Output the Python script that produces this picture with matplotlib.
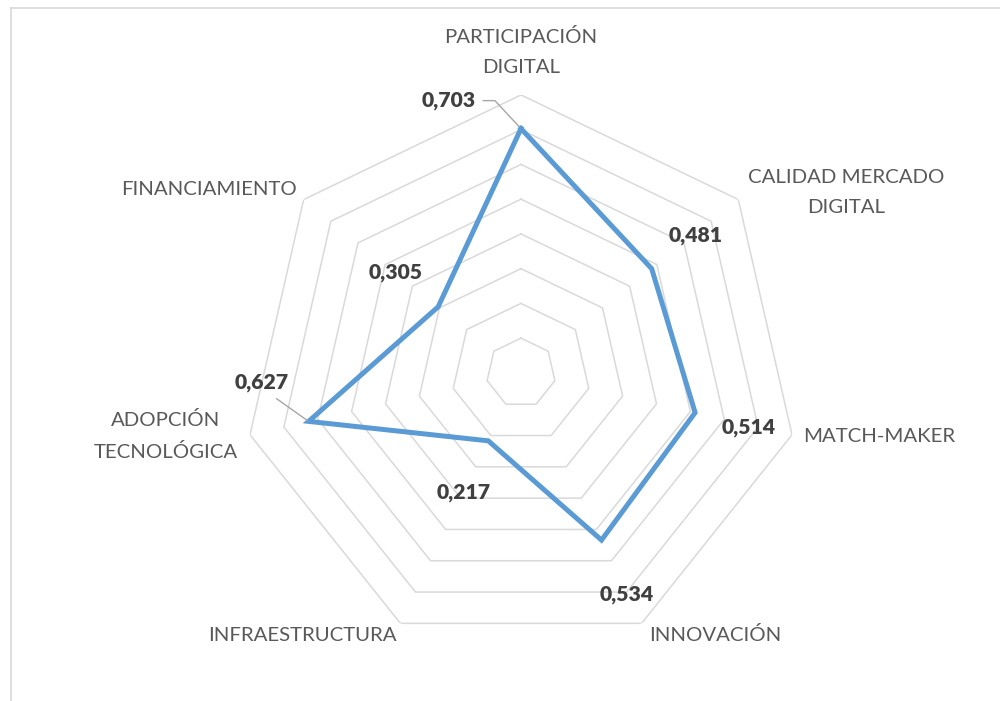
import numpy as np
import matplotlib
matplotlib.use("Agg")
import matplotlib.pyplot as plt
from matplotlib.lines import Line2D

# data
categories = ["PARTICIPACIÓN\nDIGITAL", "CALIDAD MERCADO\nDIGITAL", "MATCH-MAKER",
              "INNOVACIÓN", "INFRAESTRUCTURA", "ADOPCIÓN\nTECNOLÓGICA", "FINANCIAMIENTO"]
values = [0.703, 0.481, 0.514, 0.534, 0.217, 0.627, 0.305]
ring_levels = [0.1, 0.2, 0.3, 0.4, 0.5, 0.6, 0.7, 0.8]

# label placement (pixel offsets, y up) and alignment
cat_offsets = [(0, 43), (10, 7), (11, -2), (8, -12), (-4, -12), (-12, -1), (-7, 10)]
cat_ha = ["center", "left", "left", "left", "right", "right", "right"]
val_offsets = [(-72, 28), (44, 33), (53, -15), (25, -54), (-25, -52), (-47, 39), (-43, 34)]

plt.rcParams['font.family'] = ['Lato', 'DejaVu Sans']

fig = plt.figure(figsize=(10, 7.01), dpi=100)
ax = fig.add_axes([0.243, 0.0715, 0.556, 0.7931], projection='polar')
ax.set_theta_offset(np.pi / 2)
ax.set_theta_direction(-1)

n = len(categories)
theta = np.arange(n) * 2 * np.pi / n
theta_closed = np.append(theta, theta[0])

# heptagon rings
for lvl in ring_levels:
    ax.plot(theta_closed, [lvl] * (n + 1), color='#d9d9d9', lw=1.1, zorder=1)

# series
vals_closed = np.append(values, values[0])
ax.plot(theta_closed, vals_closed, color='#5b9bd5', lw=3.6, zorder=3,
        solid_joinstyle='miter')

ax.set_ylim(0, ring_levels[-1])
ax.set_xticks([])
ax.set_yticks([])
ax.grid(False)
ax.spines['polar'].set_visible(False)

pt = 0.72  # px -> points at 100 dpi

# category labels
for i, lab in enumerate(categories):
    dx, dy = cat_offsets[i]
    ax.annotate(lab, xy=(theta[i], ring_levels[-1]), xytext=(dx * pt, dy * pt),
                textcoords='offset points', ha=cat_ha[i], va='center',
                multialignment='center', linespacing=1.9,
                fontsize=14.7, color='#595959')

# value labels
for i, v in enumerate(values):
    dx, dy = val_offsets[i]
    txt = ("%.3f" % v).replace('.', ',')
    arrow = None
    if i == 0:
        arrow = dict(arrowstyle='-', color='#a6a6a6', lw=1.0, relpos=(1, 0.5),
                     shrinkA=3, shrinkB=2,
                     connectionstyle='angle,angleA=0,angleB=133,rad=0')
    elif i == 5:
        arrow = dict(arrowstyle='-', color='#a6a6a6', lw=1.0, relpos=(0.6, 0),
                     shrinkA=5, shrinkB=1)
    ax.annotate(txt, xy=(theta[i], v), xytext=(dx * pt, dy * pt),
                textcoords='offset points', ha='center', va='center',
                fontsize=15.2, fontweight='heavy', color='#404040',
                arrowprops=arrow, zorder=4)

# chart area border (left and top visible)
top = 1 - 7.5 / 701
left = 10.5 / 1000
fig.add_artist(Line2D([left, left], [0, top], color='#d9d9d9', lw=1.2,
                      transform=fig.transFigure))
fig.add_artist(Line2D([left, 1], [top, top], color='#d9d9d9', lw=1.2,
                      transform=fig.transFigure))

fig.savefig("out.png", dpi=100, facecolor='white')
